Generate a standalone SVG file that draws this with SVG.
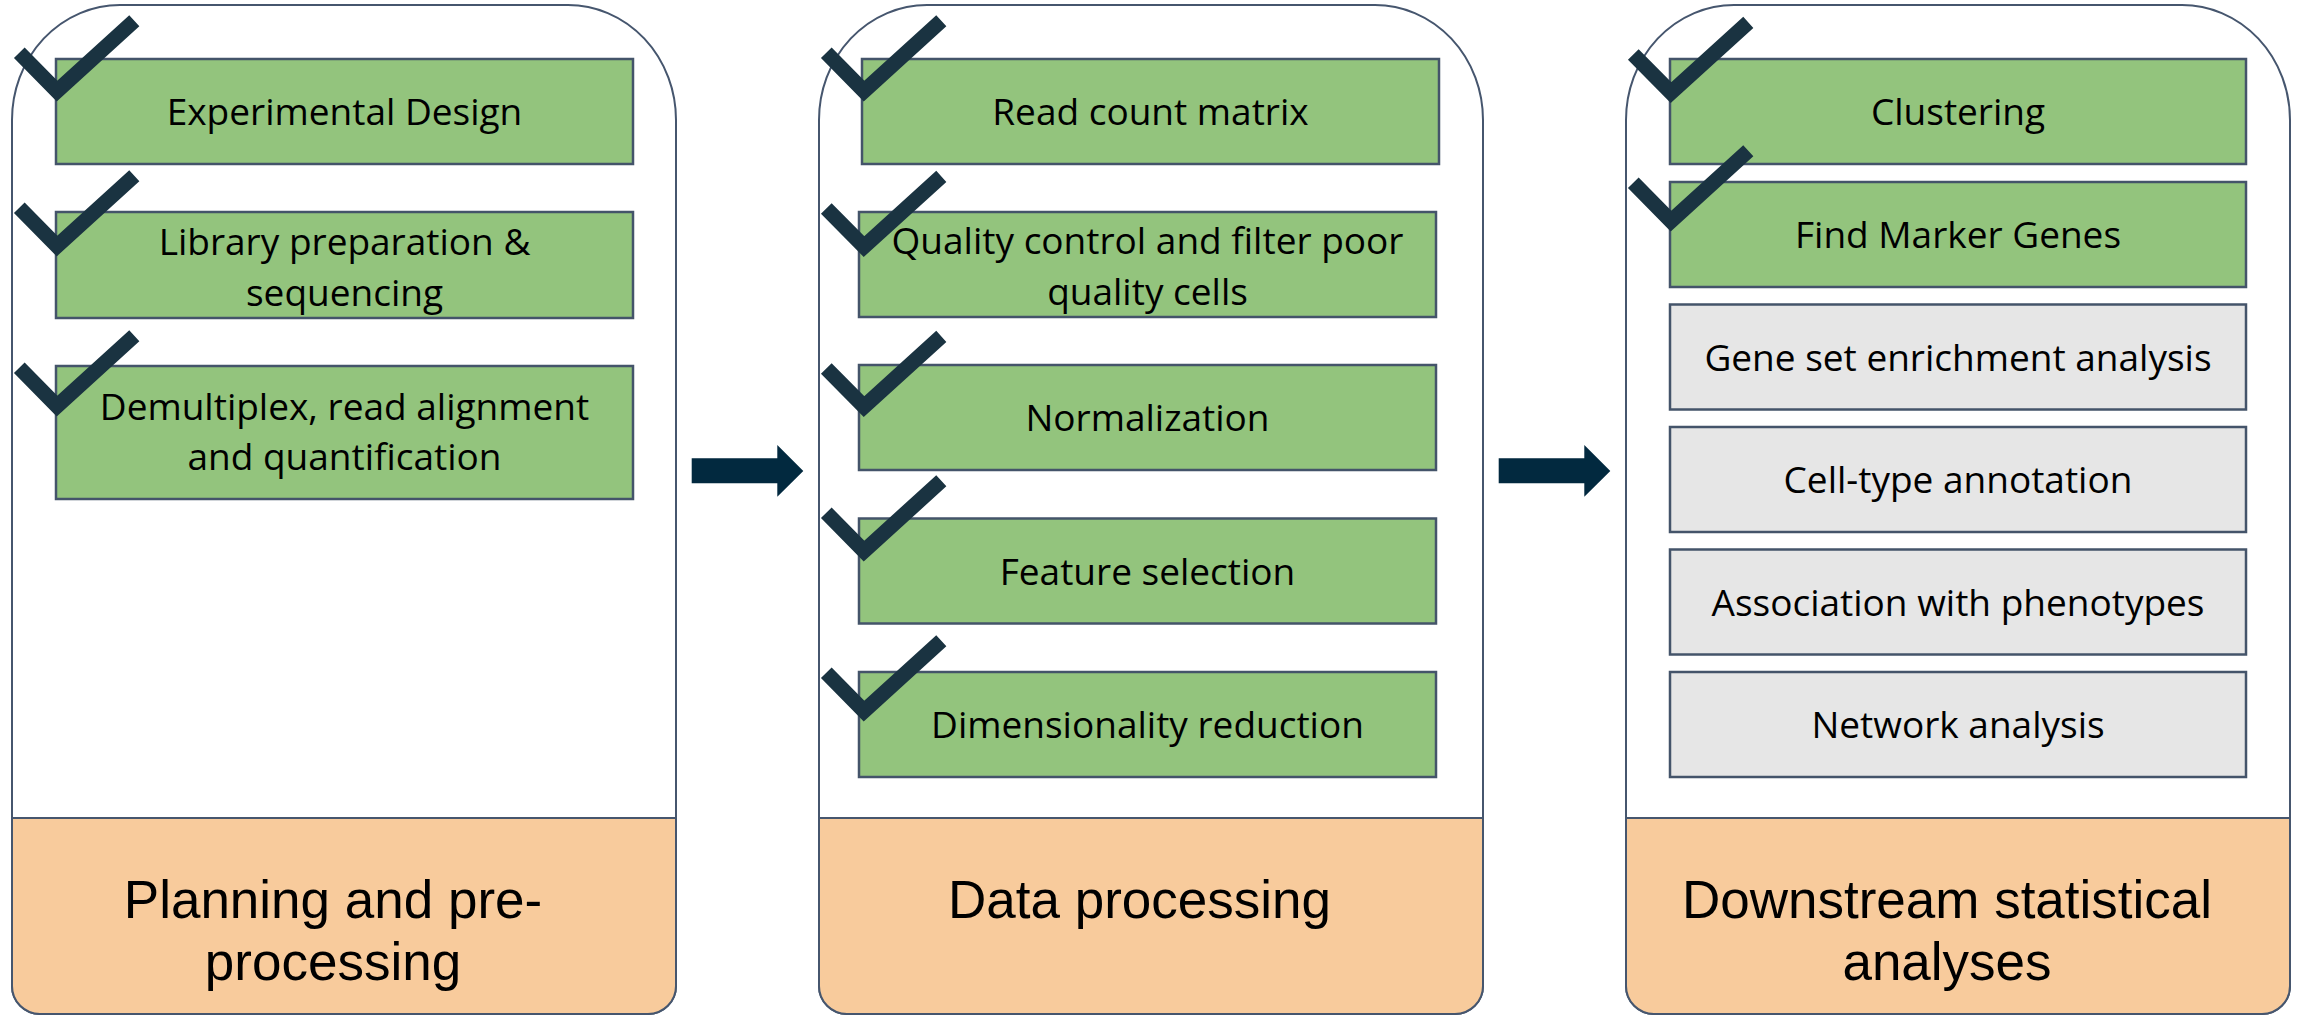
<svg xmlns="http://www.w3.org/2000/svg" xmlns:xlink="http://www.w3.org/1999/xlink" width="2300" height="1017" viewBox="0 0 2300 1017">
<defs>
<style>
.panel{fill:#ffffff;stroke:#46566e;stroke-width:2}
.foot{fill:#f8cb9c;stroke:#46566e;stroke-width:2}
.done{fill:#93c47d;stroke:#44546a;stroke-width:2.5}
.todo{fill:#e6e6e6;stroke:#44546a;stroke-width:2.5}
.t{font-family:"Open Sans","Noto Sans","Liberation Sans",sans-serif;font-size:37px;fill:#000;text-anchor:middle}
.h{font-family:"Liberation Sans",Arial,sans-serif;font-size:53px;fill:#000;text-anchor:middle}
.chk{fill:none;stroke:#1a3341;stroke-width:15;stroke-linejoin:miter;stroke-miterlimit:10;stroke-linecap:butt}
.arr{fill:#02293f}
</style>
<path id="chk" class="chk" d="M-37.7,-48.9 L0,-10.7 L77.3,-80.9"/>
</defs>

<g id="panel-planning">
<path class="panel" d="M12,120 A108,115 0 0 1 120,5 L568,5 A108,115 0 0 1 676,120 L676,986 A28,28 0 0 1 648,1014 L40,1014 A28,28 0 0 1 12,986 Z"/>
<path class="foot" d="M12,818 L676,818 L676,986 A28,28 0 0 1 648,1014 L40,1014 A28,28 0 0 1 12,986 Z"/>
<text class="h" x="333" y="918">Planning and pre-</text>
<text class="h" x="333" y="980">processing</text>
</g>

<g id="panel-data">
<path class="panel" d="M819,120 A108,115 0 0 1 927,5 L1375,5 A108,115 0 0 1 1483,120 L1483,986 A28,28 0 0 1 1455,1014 L847,1014 A28,28 0 0 1 819,986 Z"/>
<path class="foot" d="M819,818 L1483,818 L1483,986 A28,28 0 0 1 1455,1014 L847,1014 A28,28 0 0 1 819,986 Z"/>
<text class="h" x="1139.5" y="918">Data processing</text>
</g>

<g id="panel-downstream">
<path class="panel" d="M1626,120 A108,115 0 0 1 1734,5 L2182,5 A108,115 0 0 1 2290,120 L2290,986 A28,28 0 0 1 2262,1014 L1654,1014 A28,28 0 0 1 1626,986 Z"/>
<path class="foot" d="M1626,818 L2290,818 L2290,986 A28,28 0 0 1 2262,1014 L1654,1014 A28,28 0 0 1 1626,986 Z"/>
<text class="h" x="1947" y="918">Downstream statistical</text>
<text class="h" x="1947" y="980">analyses</text>
</g>

<g id="step-experimental-design">
<rect class="done" x="56" y="59" width="577" height="105"/>
<text class="t" x="344.5" y="125">Experimental Design</text>
</g>
<g id="step-library-prep">
<rect class="done" x="56" y="212" width="577" height="106"/>
<text class="t" x="344.5" y="255">Library preparation &amp;</text>
<text class="t" x="344.5" y="306">sequencing</text>
</g>
<g id="step-demultiplex">
<rect class="done" x="56" y="366" width="577" height="133"/>
<text class="t" x="344.5" y="420">Demultiplex, read alignment</text>
<text class="t" x="344.5" y="470">and quantification</text>
</g>

<g id="step-read-count">
<rect class="done" x="862" y="59" width="577" height="105"/>
<text class="t" x="1150.5" y="125">Read count matrix</text>
</g>
<g id="step-qc">
<rect class="done" x="859" y="212" width="577" height="105"/>
<text class="t" x="1147.5" y="254">Quality control and filter poor</text>
<text class="t" x="1147.5" y="305">quality cells</text>
</g>
<g id="step-normalization">
<rect class="done" x="859" y="365" width="577" height="105"/>
<text class="t" x="1147.5" y="431">Normalization</text>
</g>
<g id="step-feature-selection">
<rect class="done" x="859" y="518.5" width="577" height="105"/>
<text class="t" x="1147.5" y="584.5">Feature selection</text>
</g>
<g id="step-dim-reduction">
<rect class="done" x="859" y="672" width="577" height="105"/>
<text class="t" x="1147.5" y="738">Dimensionality reduction</text>
</g>

<g id="step-clustering">
<rect class="done" x="1670" y="59" width="576" height="105"/>
<text class="t" x="1958" y="125">Clustering</text>
</g>
<g id="step-marker-genes">
<rect class="done" x="1670" y="182" width="576" height="105"/>
<text class="t" x="1958" y="248">Find Marker Genes</text>
</g>
<g id="step-gsea">
<rect class="todo" x="1670" y="304.5" width="576" height="105"/>
<text class="t" x="1958" y="370.5">Gene set enrichment analysis</text>
</g>
<g id="step-celltype">
<rect class="todo" x="1670" y="427" width="576" height="105"/>
<text class="t" x="1958" y="493">Cell-type annotation</text>
</g>
<g id="step-phenotypes">
<rect class="todo" x="1670" y="549.5" width="576" height="105"/>
<text class="t" x="1958" y="615.5">Association with phenotypes</text>
</g>
<g id="step-network">
<rect class="todo" x="1670" y="672" width="576" height="105"/>
<text class="t" x="1958" y="738">Network analysis</text>
</g>

<g id="checkmarks">
<use xlink:href="#chk" href="#chk" x="57" y="101.7"/>
<use xlink:href="#chk" href="#chk" x="57" y="256.7"/>
<use xlink:href="#chk" href="#chk" x="57" y="416.7"/>
<use xlink:href="#chk" href="#chk" x="864" y="101.7"/>
<use xlink:href="#chk" href="#chk" x="864" y="257.3"/>
<use xlink:href="#chk" href="#chk" x="864" y="417.3"/>
<use xlink:href="#chk" href="#chk" x="864" y="561.7"/>
<use xlink:href="#chk" href="#chk" x="864" y="721.7"/>
<use xlink:href="#chk" href="#chk" x="1671" y="103.3"/>
<use xlink:href="#chk" href="#chk" x="1671" y="231.7"/>
</g>

<g id="connectors">
<polygon class="arr" points="691.7,458.3 777.3,458.3 777.3,445 803.3,471 777.3,496.7 777.3,483.3 691.7,483.3"/>
<polygon class="arr" points="1498.7,458.3 1584.3,458.3 1584.3,445 1610.3,471 1584.3,496.7 1584.3,483.3 1498.7,483.3"/>
</g>
</svg>
